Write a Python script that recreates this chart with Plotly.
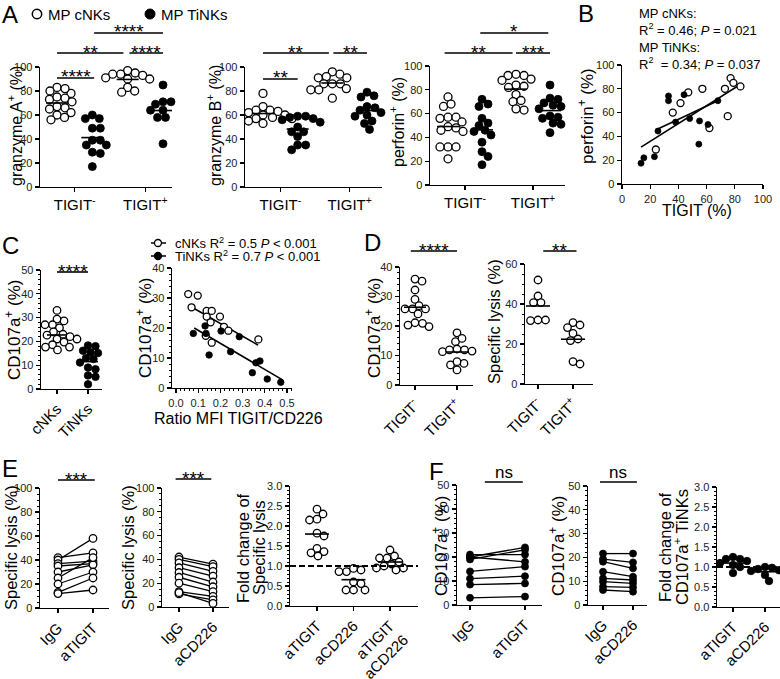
import numpy as np
import plotly.graph_objects as go

W, H = 780, 679
FONT = "Arial, 'Liberation Sans', Helvetica, sans-serif"

# ======================= DATA =======================
# Panel A: % positive cells, MP cNKs / MP TiNKs in TIGIT- and TIGIT+ subsets
gzmA_cnk_neg = [83, 78, 80, 82, 73, 75, 74, 67, 71, 65, 66, 60, 62, 56, 58]
gzmA_tink_neg = [57, 57, 60, 49, 49, 39, 39, 35, 35, 29, 28, 17]
gzmA_cnk_pos = [97, 95, 94, 93, 94, 90, 91, 90, 83, 79, 80]
gzmA_tink_pos = [85, 71, 69, 71, 64, 64, 67, 58, 58, 58, 36]

gzmB_cnk_neg = [78, 64, 67, 63, 64, 62, 60, 58, 59, 57, 60, 57, 55, 53]
gzmB_tink_neg = [59, 57, 58, 59, 54, 56, 50, 46, 46, 42, 35, 35, 31]
gzmB_cnk_pos = [94, 96, 91, 92, 91, 86, 86, 86, 81, 81, 82, 74]
gzmB_tink_pos = [76, 75, 79, 67, 64, 66, 60, 59, 62, 55, 53, 48]

perf_cnk_neg = [74, 66, 68, 57, 56, 57, 53, 49, 48, 45, 46, 32, 32, 32, 22]
perf_tink_neg = [72, 66, 68, 56, 52, 50, 46, 45, 42, 36, 28, 24, 17]
perf_cnk_pos = [92, 93, 92, 89, 88, 84, 82, 83, 76, 70, 71, 63, 64]
perf_tink_pos = [84, 73, 72, 69, 66, 67, 64, 58, 57, 56, 52, 51, 44]

tigit_ticks = ["TIGIT<sup>-</sup>", "TIGIT<sup>+</sup>"]

# Panel B: TIGIT (%) vs perforin+ (%)
b_cnk_tigit = [24, 36, 41.5, 47, 57, 62, 75, 73, 77, 79, 84]
b_cnk_perf = [29, 60, 68, 77, 80, 47, 57, 80, 89, 85, 82]
b_tink_tigit = [13.5, 15.5, 23, 25.5, 33, 33, 38, 44, 48, 55, 54.5, 61, 68]
b_tink_perf = [17.5, 22, 23, 44.5, 74, 70, 52, 75, 55, 53, 33.5, 50, 70]
b_fit_cnk_x = [13.5, 83]
b_fit_cnk_y = [31, 83]
b_fit_tink_x = [25, 68]
b_fit_tink_y = [46, 70]

# Panel C
c_cnk = [33, 28.6, 29.4, 27, 27, 25.7, 24, 23, 22.6, 21.4, 21, 21, 19.7, 18.6,
         17.6, 17.6, 15.7, 16.4, 22]
c_tink = [18.3, 18, 16.1, 15.1, 15.4, 12.6, 11.1, 13, 8.3, 9, 5.7, 5.1, 2]
c_ticks = ["cNKs", "TiNKs"]

c2_cnk_ratio = [0.055, 0.098, 0.07, 0.138, 0.161, 0.138, 0.198, 0.156, 0.216,
                0.236, 0.134, 0.161, 0.371]
c2_cnk_cd107 = [31.3, 30.8, 26.9, 25.7, 25.7, 23.8, 23.8, 21.9, 20.4, 19.1,
                17.4, 15.1, 16.2]
c2_tink_ratio = [0.078, 0.131, 0.135, 0.203, 0.285, 0.149, 0.246, 0.36, 0.378,
                 0.344, 0.411, 0.472]
c2_tink_cd107 = [18.2, 20.7, 18.2, 19, 17.1, 11, 12.1, 8.4, 9, 5.1, 3, 1.9]
c2_fit_cnk_x = [0.07, 0.37]
c2_fit_cnk_y = [27, 14.3]
c2_fit_tink_x = [0.082, 0.48]
c2_fit_tink_y = [20, 2.7]

# Panel D
d1_neg = [35.2, 35.9, 32.2, 29, 26.9, 25.8, 25.8, 25.8, 24.1, 21.1, 19.8, 20.3, 20.9]
d1_pos = [17.7, 14.7, 15.8, 12.2, 11.9, 11.3, 11.9, 7.3, 5.1, 6.8, 7.9, 11.5]
d2_neg = [52, 44, 40.7, 40.7, 32, 31.7, 32]
d2_pos = [30.7, 28.2, 29.5, 25.3, 22.5, 21.7, 10, 11.2]

# Panel E
e1_igg = [42, 40, 37, 35, 30, 25, 20, 13, 12]
e1_atigit = [46, 58, 39, 37, 36, 42, 30, 25, 15]
e1_ticks = ["IgG", "aTIGIT"]
e2_igg = [42, 40, 37, 33, 29, 25, 20, 13, 11, 12]
e2_acd226 = [36, 34, 30, 26, 21, 17, 13, 9, 6, 3]
e2_ticks = ["IgG", "aCD226"]
e3_atigit = [2.42, 2.3, 2.17, 2.15, 1.82, 1.75, 1.44, 1.36, 1.33, 1.25]
e3_acd226 = [0.86, 0.9, 0.86, 0.94, 0.6, 0.4, 0.4, 0.4, 0.56]
e3_combo = [1.4, 1.25, 1.2, 1.2, 1.1, 1.05, 1.0, 0.95, 0.9, 0.95]
e3_ticks = ["aTIGIT", "aCD226", "aTIGIT<br>+ aCD226"]

# Panel F
f1_igg = [21, 20, 20, 19, 14, 11, 8.5, 3]
f1_atigit = [21, 24, 18, 23, 16, 12, 9, 3.5]
f2_igg = [21.6, 19.3, 18.2, 14, 11.2, 9.8, 7.7, 6.3]
f2_acd226 = [21.6, 17.9, 15.4, 11.9, 10.5, 9.1, 7.4, 5.6]
f3_atigit = [1.2, 1.15, 1.25, 1.1, 1.08, 1.05, 1.0, 0.85, 1.2]
f3_acd226 = [0.98, 0.95, 0.9, 0.85, 0.8, 1.0, 0.65, 0.92]
f3_ticks = ["aTIGIT", "aCD226"]

# ======================= HELPERS =======================
def PX(x):
    return x / W


def PY(y):
    return 1 - y / H


fig = go.Figure()
L = {}
ann = []
shp = []

BASE = dict(showline=True, linecolor="black", linewidth=1.4, ticks="outside",
            ticklen=4, tickwidth=1.2, tickcolor="black", showgrid=False,
            zeroline=False, fixedrange=True, automargin=False,
            tickfont=dict(size=11, color="#222", family=FONT))
MINOR = dict(ticks="outside", ticklen=2, tickwidth=1, tickcolor="black", showgrid=False)
SCALE = {}


def sfx(n):
    return "" if n == 1 else str(n)


def axes(n, box, yr, ydt, ymin=None, xr=None, xmap=None, xtv=None, xtt=None,
         xang=0, xfs=15, xdt=None, xmin=None):
    x0, x1, yt, yb = box
    if xr is None:
        (pa, va), (pb, vb) = xmap
        s = (pb - pa) / (vb - va)
        xr = [va - (pa - x0) / s, va + (x1 - pa) / s]
    s_ = sfx(n)
    xa = dict(BASE, domain=[x0 / W, x1 / W], range=xr, anchor="y" + s_)
    if xtv is not None:
        xa.update(tickmode="array", tickvals=xtv, ticktext=xtt, tickangle=xang,
                  tickfont=dict(size=xfs, color="black", family=FONT))
    else:
        xa.update(dtick=xdt, tick0=0, tickangle=0)
    if xmin:
        xa["minor"] = dict(MINOR, dtick=xmin)
    ya = dict(BASE, domain=[1 - yb / H, 1 - yt / H], range=yr,
              anchor="x" + s_, dtick=ydt, tick0=0)
    if ymin:
        ya["minor"] = dict(MINOR, dtick=ymin)
    L["xaxis" + s_] = xa
    L["yaxis" + s_] = ya
    SCALE[n] = ((x1 - x0) / (xr[1] - xr[0]), (yb - yt) / (yr[1] - yr[0]))


def swarm(vals, sx, sy, d):
    v = np.asarray(vals, float)
    order = np.argsort(-v)
    placed = []
    off = np.zeros(len(v))
    cands = [0.0]
    for k in np.arange(0.5, 80, 0.5):
        cands += [k, -k]
    for i in order:
        yp = v[i] * sy
        for c in cands:
            if all((c - a) ** 2 + (yp - b) ** 2 >= d * d for a, b in placed):
                break
        placed.append((c, yp))
        off[i] = c / sx
    return off


def mk(filled, size):
    if filled:
        return dict(symbol="circle", size=size, color="black",
                    line=dict(color="black", width=0.8))
    return dict(symbol="circle", size=size, color="white",
                line=dict(color="black", width=1.3))


def group(n, pos, vals, filled, size=8, d=7.6, half=11):
    sx, sy = SCALE[n]
    v = np.asarray(vals, float)
    off = swarm(v, sx, sy, d)
    s_ = sfx(n)
    fig.add_trace(go.Scatter(x=pos + off, y=v, mode="markers", marker=mk(filled, size),
                             xaxis="x" + s_, yaxis="y" + s_, showlegend=False,
                             cliponaxis=False, hoverinfo="skip"))
    m = v.mean()
    fig.add_trace(go.Scatter(x=[pos - half / sx, pos + half / sx], y=[m, m], mode="lines",
                             line=dict(color="black", width=1.6), xaxis="x" + s_,
                             yaxis="y" + s_, showlegend=False, hoverinfo="skip"))


def pairs(n, a, b, filled, size=7.5):
    xs, ys = [], []
    for va, vb in zip(a, b):
        xs += [1, 2, None]
        ys += [va, vb, None]
    s_ = sfx(n)
    fig.add_trace(go.Scatter(x=xs, y=ys, mode="lines+markers", marker=mk(filled, size),
                             line=dict(color="black", width=1.3), xaxis="x" + s_,
                             yaxis="y" + s_, showlegend=False, cliponaxis=False,
                             hoverinfo="skip"))


def sigbar(n, xa, xb, ypx, text):
    s_ = sfx(n)
    shp.append(dict(type="line", xref="x" + s_, yref="paper", x0=xa, x1=xb,
                    y0=PY(ypx), y1=PY(ypx), line=dict(color="black", width=1.6)))
    if text == "ns":
        ann.append(dict(xref="x" + s_, yref="paper", x=(xa + xb) / 2, y=PY(ypx + 1.5),
                        yanchor="bottom", xanchor="center", text=text, showarrow=False,
                        font=dict(size=17, color="black", family=FONT)))
    else:
        ann.append(dict(xref="x" + s_, yref="paper", x=(xa + xb) / 2, y=PY(ypx + 11.5),
                        yanchor="bottom", xanchor="center", text=text, showarrow=False,
                        font=dict(size=19, color="black", family=FONT)))


def text(x, y, t, size=16, angle=0, xanchor="center", yanchor="middle", align="center"):
    ann.append(dict(xref="paper", yref="paper", x=PX(x), y=PY(y), text=t,
                    showarrow=False, textangle=angle, xanchor=xanchor, yanchor=yanchor,
                    align=align, font=dict(size=size, color="black", family=FONT)))


def dashed_one(n):
    s_ = sfx(n)
    shp.append(dict(type="line", xref="x" + s_ + " domain", yref="y" + s_, x0=0, x1=1,
                    y0=1, y1=1, line=dict(color="black", width=1.8, dash="6px,3px")))


# ======================= PANEL A =======================
axes(1, (40, 172, 67, 187), [0, 100], 20, xmap=((57, 1), (163, 4)),
     xtv=[1.5, 3.5], xtt=tigit_ticks)
group(1, 1, gzmA_cnk_neg, False)
group(1, 2, gzmA_tink_neg, True)
group(1, 3, gzmA_cnk_pos, False)
group(1, 4, gzmA_tink_pos, True)
sigbar(1, 1, 2.05, 78, "****")
sigbar(1, 1, 2.88, 53, "**")
sigbar(1, 3.05, 4, 53, "****")
sigbar(1, 2.05, 4, 33, "****")

axes(2, (245, 382, 67, 187), [0, 100], 20, xmap=((263, 1), (367, 4)),
     xtv=[1.5, 3.5], xtt=tigit_ticks)
group(2, 1, gzmB_cnk_neg, False)
group(2, 2, gzmB_tink_neg, True)
group(2, 3, gzmB_cnk_pos, False)
group(2, 4, gzmB_tink_pos, True)
sigbar(2, 1, 2, 79, "**")
sigbar(2, 1, 2.9, 53, "**")
sigbar(2, 3.03, 4, 53, "**")

axes(3, (430, 565, 66, 185), [0, 100], 20, xmap=((448, 1), (550, 4)),
     xtv=[1.5, 3.5], xtt=tigit_ticks)
group(3, 1, perf_cnk_neg, False)
group(3, 2, perf_tink_neg, True)
group(3, 3, perf_cnk_pos, False)
group(3, 4, perf_tink_pos, True)
sigbar(3, 0.9, 2.9, 53, "**")
sigbar(3, 3.0, 4, 53, "***")
sigbar(3, 1.95, 3.95, 33, "*")

text(0, 14, "A", size=24, xanchor="left")
shp.append(dict(type="circle", xref="paper", yref="paper", x0=PX(32.3), x1=PX(41.7),
                y0=PY(18.7), y1=PY(9.3), line=dict(color="black", width=1.5),
                fillcolor="white"))
text(46, 14, "MP cNKs", size=15, xanchor="left")
shp.append(dict(type="circle", xref="paper", yref="paper", x0=PX(145), x1=PX(155),
                y0=PY(19), y1=PY(9), line=dict(color="black", width=1),
                fillcolor="black"))
text(159, 14, "MP TiNKs", size=15, xanchor="left")
text(15, 126, "granzyme A<sup>+</sup> (%)", size=16, angle=-90)
text(214, 126, "granzyme B<sup>+</sup> (%)", size=16, angle=-90)
text(397, 122, "perforin<sup>+</sup> (%)", size=16, angle=-90)

# ======================= PANEL B =======================
axes(4, (622, 763, 65, 184), [0, 100], 20, xr=[0, 100], xdt=20)
fig.add_trace(go.Scatter(x=b_fit_cnk_x, y=b_fit_cnk_y, mode="lines",
                         line=dict(color="black", width=1.6), xaxis="x4", yaxis="y4",
                         showlegend=False, hoverinfo="skip"))
fig.add_trace(go.Scatter(x=b_fit_tink_x, y=b_fit_tink_y, mode="lines",
                         line=dict(color="black", width=1.6), xaxis="x4", yaxis="y4",
                         showlegend=False, hoverinfo="skip"))
fig.add_trace(go.Scatter(x=b_cnk_tigit, y=b_cnk_perf, mode="markers", marker=mk(False, 7),
                         xaxis="x4", yaxis="y4", showlegend=False, cliponaxis=False))
fig.add_trace(go.Scatter(x=b_tink_tigit, y=b_tink_perf, mode="markers", marker=mk(True, 6),
                         xaxis="x4", yaxis="y4", showlegend=False, cliponaxis=False))
text(576, 13, "B", size=24, xanchor="left")
text(637, 4, "MP cNKs:<br>R<sup>2</sup> = 0.46; <i>P</i> = 0.021<br>MP TiNKs:<br>"
     "R<sup>2</sup>  = 0.34; <i>P</i> = 0.037", size=13, xanchor="left",
     yanchor="top", align="left")
text(586, 116, "perforin<sup>+</sup> (%)", size=17, angle=-90)
text(697, 210, "TIGIT (%)", size=16)

# ======================= PANEL C =======================
axes(5, (41, 102, 270, 389), [0, 50], 10, ymin=2, xmap=((57, 1), (88, 2)),
     xtv=[1, 2], xtt=c_ticks, xang=-45)
group(5, 1, c_cnk, False, size=7.5, d=7.2, half=10)
group(5, 2, c_tink, True, size=7.5, d=7.2, half=10)
sigbar(5, 1, 2, 272, "****")
text(0, 245, "C", size=24, xanchor="left")
text(13, 330, "CD107a<sup>+</sup> (%)", size=17, angle=-90)

axes(6, (172, 292, 268, 388), [0, 40], 10, ymin=2, xmap=((176, 0), (287, 0.5)),
     xdt=0.1, xmin=0.02)
L["xaxis6"]["tickformat"] = ".1f"
fig.add_trace(go.Scatter(x=c2_fit_cnk_x, y=c2_fit_cnk_y, mode="lines",
                         line=dict(color="black", width=1.6), xaxis="x6", yaxis="y6",
                         showlegend=False, hoverinfo="skip"))
fig.add_trace(go.Scatter(x=c2_fit_tink_x, y=c2_fit_tink_y, mode="lines",
                         line=dict(color="black", width=1.6), xaxis="x6", yaxis="y6",
                         showlegend=False, hoverinfo="skip"))
fig.add_trace(go.Scatter(x=c2_cnk_ratio, y=c2_cnk_cd107, mode="markers", marker=mk(False, 7),
                         xaxis="x6", yaxis="y6", showlegend=False, cliponaxis=False))
fig.add_trace(go.Scatter(x=c2_tink_ratio, y=c2_tink_cd107, mode="markers", marker=mk(True, 6.5),
                         xaxis="x6", yaxis="y6", showlegend=False, cliponaxis=False))
text(144, 328, "CD107a<sup>+</sup> (%)", size=17, angle=-90)
text(238, 418, "Ratio MFI TIGIT/CD226", size=16)
for yy, fill in ((243, "white"), (256, "black")):
    shp.append(dict(type="line", xref="paper", yref="paper", x0=PX(151), x1=PX(166),
                    y0=PY(yy), y1=PY(yy), line=dict(color="black", width=1.5)))
    shp.append(dict(type="circle", xref="paper", yref="paper", x0=PX(154.5), x1=PX(161.5),
                    y0=PY(yy + 3.5), y1=PY(yy - 3.5), line=dict(color="black", width=1.3),
                    fillcolor=fill))
text(173, 243, "cNKs R<sup>2</sup> = 0.5 <i>P</i> < 0.001", size=13, xanchor="left")
text(173, 256, "TiNKs R<sup>2</sup> = 0.7 <i>P</i> < 0.001", size=13, xanchor="left")

# ======================= PANEL D =======================
axes(7, (400, 473, 267, 385), [0, 40], 10, ymin=2, xmap=((415, 1), (457, 2)),
     xtv=[1, 2], xtt=tigit_ticks, xang=-45)
group(7, 1, d1_neg, False, size=7.5, d=7.2, half=11)
group(7, 2, d1_pos, False, size=7.5, d=7.2, half=11)
sigbar(7, 0.9, 2, 251, "****")
text(362, 242, "D", size=24, xanchor="left")
text(373, 328, "CD107a<sup>+</sup> (%)", size=17, angle=-90)

axes(8, (525, 593, 264, 384), [0, 60], 20, ymin=5, xmap=((538, 1), (573, 2)),
     xtv=[1, 2], xtt=tigit_ticks, xang=-45)
group(8, 1, d2_neg, False, size=7.5, d=7.2, half=12)
group(8, 2, d2_pos, False, size=7.5, d=7.2, half=12)
sigbar(8, 1.15, 2.1, 251, "**")
text(494, 322, "Specific lysis (%)", size=16.5, angle=-90)

# ======================= PANEL E =======================
axes(9, (40, 109, 488, 608), [0, 100], 20, ymin=5, xmap=((58, 1), (93, 2)),
     xtv=[1, 2], xtt=e1_ticks, xang=-45)
pairs(9, e1_igg, e1_atigit, False)
sigbar(9, 1, 2.05, 480, "***")
text(0, 468, "E", size=24, xanchor="left")
text(11, 548, "Specific lysis (%)", size=16.5, angle=-90)

axes(10, (162, 229, 488, 607), [0, 100], 20, ymin=5, xmap=((179, 1), (213, 2)),
     xtv=[1, 2], xtt=e2_ticks, xang=-45)
pairs(10, e2_igg, e2_acd226, False)
sigbar(10, 0.9, 1.95, 479, "***")
text(128, 548, "Specific lysis (%)", size=16.5, angle=-90)

axes(11, (290, 418, 486, 606), [0, 3], 0.5, ymin=0.1, xmap=((317, 1), (390, 3)),
     xtv=[1, 2, 3], xtt=e3_ticks, xang=-45)
L["yaxis11"]["tickformat"] = ".1f"
dashed_one(11)
group(11, 1, e3_atigit, False, size=7.5, d=7.4, half=12)
group(11, 2, e3_acd226, False, size=7.5, d=7.4, half=12)
group(11, 3, e3_combo, False, size=7.5, d=7.4, half=12)
text(243, 548, "Fold change of", size=16.5, angle=-90)
text(259, 548, "Specific lysis", size=16.5, angle=-90)

# ======================= PANEL F =======================
axes(12, (457, 542, 485, 605), [0, 50], 10, ymin=2, xmap=((470, 1), (525, 2)),
     xtv=[1, 2], xtt=e1_ticks, xang=-45)
pairs(12, f1_igg, f1_atigit, True, size=7)
sigbar(12, 1.27, 1.96, 482, "ns")
text(427, 471, "F", size=24, xanchor="left")
text(440, 546, "CD107a<sup>+</sup> (%)", size=17, angle=-90)

axes(13, (588, 647, 486, 605), [0, 50], 10, ymin=2, xmap=((603, 1), (633, 2)),
     xtv=[1, 2], xtt=e2_ticks, xang=-45)
pairs(13, f2_igg, f2_acd226, True, size=7)
sigbar(13, 0.9, 2.13, 482, "ns")
text(557, 546, "CD107a<sup>+</sup> (%)", size=17, angle=-90)

axes(14, (717, 780, 487, 607), [0, 3], 0.5, ymin=0.1, xmap=((733, 1), (765, 2)),
     xtv=[1, 2], xtt=f3_ticks, xang=-45)
L["yaxis14"]["tickformat"] = ".1f"
dashed_one(14)
group(14, 1, f3_atigit, True, size=7.5, d=7.0, half=11)
group(14, 2, f3_acd226, True, size=7.5, d=7.0, half=11)
text(665, 547, "Fold change of", size=16.5, angle=-90)
text(681, 547, "CD107a<sup>+</sup> TiNKs", size=16.5, angle=-90)

fig.update_layout(template="none", width=W, height=H,
                  margin=dict(l=0, r=0, t=0, b=0, pad=0, autoexpand=False),
                  paper_bgcolor="white", plot_bgcolor="rgba(0,0,0,0)",
                  showlegend=False, font=dict(family=FONT, color="black"),
                  annotations=ann, shapes=shp, **L)
fig.write_html("out.html", config={"displayModeBar": False, "staticPlot": True},
               post_script="document.body.style.margin='0';"
                           "document.body.style.overflow='hidden';")
